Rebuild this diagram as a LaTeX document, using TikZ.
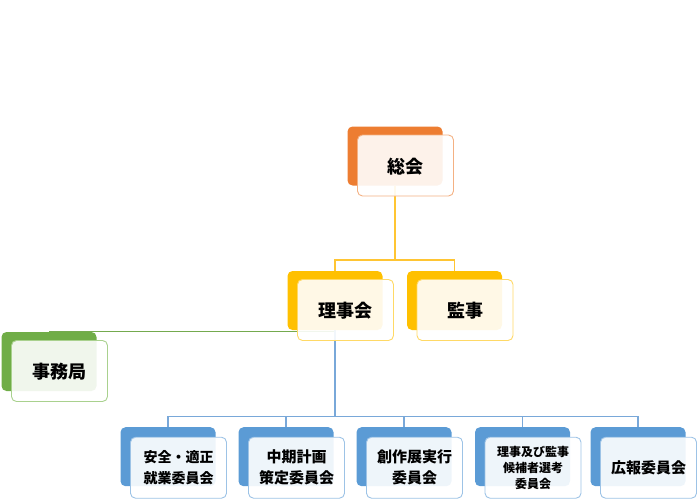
\documentclass[tikz,border=0pt]{standalone}
\usepackage{fontspec}
\newfontfamily\jp{Noto Sans CJK JP}
\usetikzlibrary{calc}
\pgfdeclarelayer{bg}
\pgfsetlayers{bg,main}
\definecolor{cOr}{HTML}{ED7D31}
\definecolor{cOrL}{HTML}{F4B183}
\definecolor{cYe}{HTML}{FFC000}
\definecolor{cYeL}{HTML}{FFD966}
\definecolor{cGr}{HTML}{70AD47}
\definecolor{cGrL}{HTML}{A9D18E}
\definecolor{cBl}{HTML}{5B9BD5}
\definecolor{cBlL}{HTML}{9DC3E6}
\definecolor{lnYe}{HTML}{FFC533}
\definecolor{lnGr}{HTML}{74AA4E}
\definecolor{lnBl}{HTML}{79A8D9}
\tikzset{
  backbox/.style={rectangle, rounded corners=5pt, minimum width=95pt, minimum height=59pt, inner sep=0pt, fill=#1, draw=none},
  frontbox/.style={rectangle, rounded corners=5pt, minimum width=96pt, minimum height=61pt, inner sep=0pt, fill=white, fill opacity=0.9, text opacity=1, draw=#1, line width=0.9pt, align=center, font=\jp\bfseries, text=black},
  biglabel/.style={font=\jp\bfseries\fontsize{18}{20}\selectfont, text depth=0pt, yshift=1.5pt},
  conn/.style={draw=#1, line width=1.1pt},
}
\begin{document}
\begin{tikzpicture}[x=1pt,y=-1pt]
\useasboundingbox (0,0) rectangle (700,503);
% back boxes
\node[backbox=cOr] (sokaiB) at (395,156) {};
\node[backbox=cYe] (rijiB) at (335,300.5) {};
\node[backbox=cYe] (kanjiB) at (454.5,300.5) {};
\node[backbox=cGr] (jimuB) at (49,361.5) {};
\node[backbox=cBl] (c1B) at (168,456.7) {};
\node[backbox=cBl] (c2B) at (286,456.7) {};
\node[backbox=cBl] (c3B) at (404,456.7) {};
\node[backbox=cBl] (c4B) at (522.5,456.7) {};
\node[backbox=cBl] (c5B) at (638,456.7) {};
% front boxes
\node[frontbox=cOrL, biglabel] (sokai) at ($(sokaiB)+(10.5,11)$) {総会};
\node[frontbox=cYeL, biglabel] (riji) at ($(rijiB)+(10.5,11)$) {理事会};
\node[frontbox=cYeL, biglabel] (kanji) at ($(kanjiB)+(10.5,11)$) {監事};
\node[frontbox=cGrL, biglabel] (jimu) at ($(jimuB)+(10.5,11)$) {事務局};
\node[frontbox=cBlL, font=\jp\bfseries\fontsize{14}{21}\selectfont] (c1) at ($(c1B)+(10.5,11)$) {安全・適正\\就業委員会};
\node[frontbox=cBlL, font=\jp\bfseries\fontsize{15}{21}\selectfont] (c2) at ($(c2B)+(10.5,11)$) {中期計画\\策定委員会};
\node[frontbox=cBlL, font=\jp\bfseries\fontsize{15}{21}\selectfont] (c3) at ($(c3B)+(10.5,11)$) {創作展実行\\委員会};
\node[frontbox=cBlL, font=\jp\bfseries\fontsize{12}{16}\selectfont] (c4) at ($(c4B)+(10.5,11)$) {理事及び監事\\候補者選考\\委員会};
\node[frontbox=cBlL, font=\jp\bfseries\fontsize{15}{20}\selectfont] (c5) at ($(c5B)+(10.5,11)$) {広報委員会};
% connectors
\begin{pgfonlayer}{bg}
\coordinate (j1) at (395,260);
\draw[conn=lnYe] (sokaiB.south) -- (j1) -| (rijiB.north);
\draw[conn=lnYe] (j1) -| (kanjiB.north);
\draw[conn=lnGr] (rijiB.south |- jimuB.north) -- (jimuB.north);
\coordinate (j2) at (335,416.7);
\draw[conn=lnBl] (rijiB.south) -- (j2);
\draw[conn=lnBl] (j2) -| (c1B.north);
\draw[conn=lnBl] (j2) -| (c2B.north);
\draw[conn=lnBl] (j2) -| (c3B.north);
\draw[conn=lnBl] (j2) -| (c4B.north);
\draw[conn=lnBl] (j2) -| (c5B.north);
\end{pgfonlayer}
\end{tikzpicture}
\end{document}
